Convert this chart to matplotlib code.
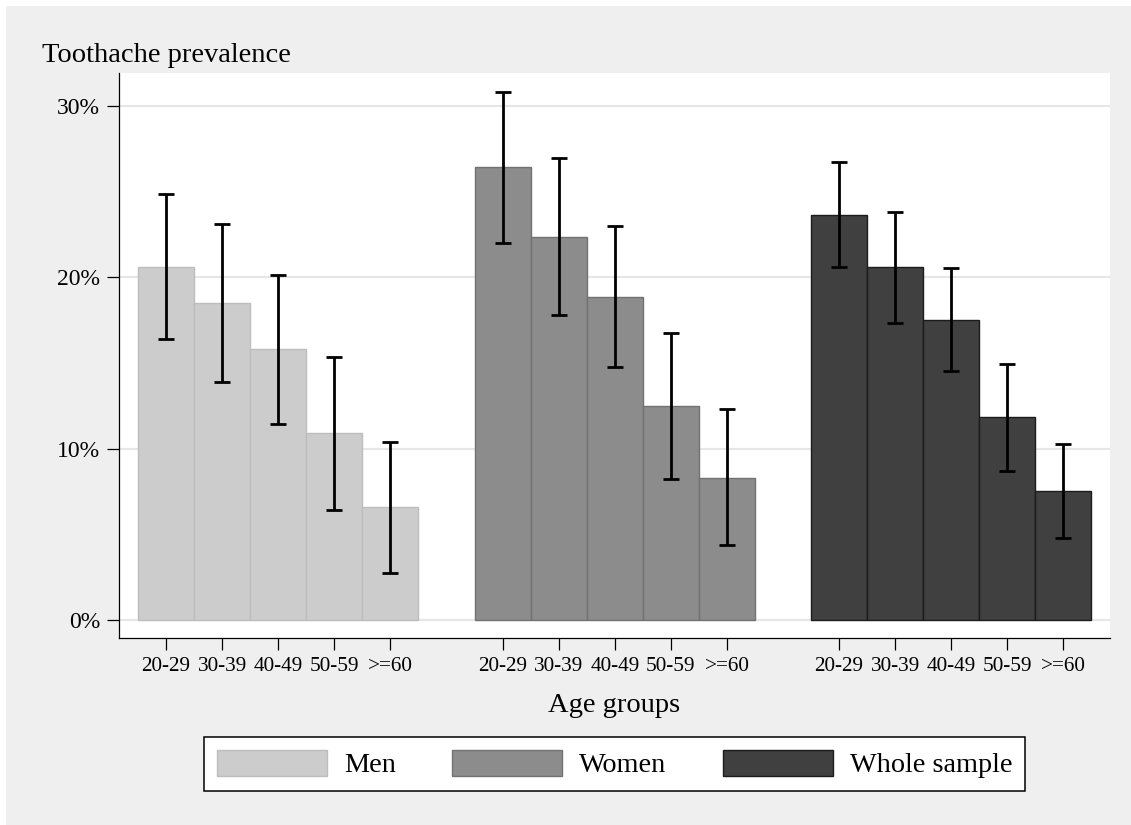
import numpy as np
import matplotlib
matplotlib.use('Agg')
import matplotlib.pyplot as plt
from matplotlib.patches import Rectangle, Patch
from matplotlib.ticker import FuncFormatter

plt.rcParams['font.family'] = ['Liberation Serif', 'DejaVu Serif']

# podaci
age_groups = ['20-29', '30-39', '40-49', '50-59', '>=60']
groups = ['Men', 'Women', 'Whole sample']

men = [20.6, 18.5, 15.8, 10.9, 6.6]
men_lo = [16.4, 13.9, 11.45, 6.45, 2.75]
men_hi = [24.87, 23.1, 20.15, 15.38, 10.37]

women = [26.43, 22.37, 18.86, 12.47, 8.3]
women_lo = [22.02, 17.78, 14.75, 8.22, 4.38]
women_hi = [30.83, 26.94, 22.97, 16.78, 12.3]

whole = [23.65, 20.59, 17.53, 11.83, 7.53]
whole_lo = [20.58, 17.34, 14.54, 8.7, 4.78]
whole_hi = [26.72, 23.84, 20.56, 14.92, 10.27]

fills = ['#cccccc', '#8c8c8c', '#404040']
edges = ['#bdbdbd', '#727272', '#1c1c1c']

W, H = 1131, 825
fig = plt.figure(figsize=(W / 100, H / 100), dpi=100)
fig.patch.set_facecolor('white')
# sivi okvir oko grafika
fig.add_artist(Rectangle((6 / W, -0.02), 1.1, 1.02 - 6 / H, transform=fig.transFigure,
                         facecolor='#efefef', edgecolor='none', zorder=-10))

ax = fig.add_axes([119 / W, 1 - 638 / H, (1110 - 119) / W, (638 - 73) / H])
ax.set_facecolor('white')

series = [(men, men_lo, men_hi), (women, women_lo, women_hi), (whole, whole_lo, whole_hi)]
xticks = []
xlabels = []
for g, (vals, lo, hi) in enumerate(series):
    x = np.arange(len(vals)) + g * 6
    vals = np.array(vals)
    ax.bar(x, vals, width=1.0, color=fills[g], edgecolor=edges[g], linewidth=1.0, zorder=2)
    yerr = [vals - np.array(lo), np.array(hi) - vals]
    ax.errorbar(x, vals, yerr=yerr, fmt='none', ecolor='black', elinewidth=2.0,
                capsize=5.5, capthick=2.0, zorder=3)
    xticks += list(x)
    xlabels += age_groups

ax.set_xlim(-0.84, 16.83)
ax.set_ylim(-1.05, 31.93)
ax.set_yticks([0, 10, 20, 30])
ax.yaxis.set_major_formatter(FuncFormatter(lambda v, p: '%d%%' % v))
ax.set_xticks(xticks)
ax.set_xticklabels(xlabels)
ax.grid(axis='y', color='#e6e6e6', linewidth=1.5, zorder=0)
ax.set_axisbelow(True)

for s in ['top', 'right']:
    ax.spines[s].set_visible(False)
for s in ['left', 'bottom']:
    ax.spines[s].set_linewidth(0.9)
    ax.spines[s].set_color('black')

ax.tick_params(axis='y', length=8.6, width=0.9, pad=5, labelsize=17)
ax.tick_params(axis='x', length=8.6, width=0.9, pad=5, labelsize=15.3)

fig.text(42 / W, 1 - 62 / H, 'Toothache prevalence', fontsize=20.5, ha='left', va='baseline')
fig.text(614.5 / W, 1 - 706 / H, 'Age groups', fontsize=20.5, ha='center', va='center')

handles = [Patch(facecolor=fills[i], edgecolor=edges[i], linewidth=1.0) for i in range(3)]
leg = fig.legend(handles, groups, loc='center', bbox_to_anchor=(614.5 / W, 1 - 764 / H),
                 ncol=3, fontsize=20.3, frameon=True, fancybox=False, handlelength=3.9,
                 handleheight=1.04, handletextpad=0.6, columnspacing=2.0, borderpad=0.45)
leg.get_frame().set_edgecolor('black')
leg.get_frame().set_linewidth(1.1)
leg.get_frame().set_facecolor('white')
leg.get_frame().set_alpha(1)

fig.savefig('out.png', dpi=100)
